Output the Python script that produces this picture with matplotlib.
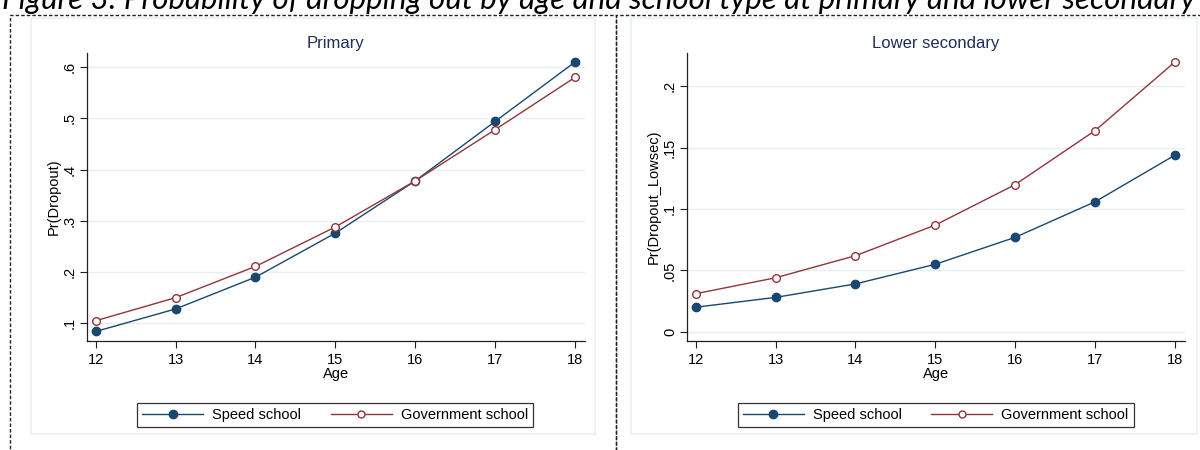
import matplotlib.pyplot as plt
from matplotlib.patches import Rectangle
from matplotlib.lines import Line2D
from matplotlib.ticker import FuncFormatter

plt.rcParams["font.family"] = ["Liberation Sans", "DejaVu Sans"]

ages = [12, 13, 14, 15, 16, 17, 18]

# predicted dropout probabilities, primary
prim_speed = [0.084, 0.128, 0.190, 0.276, 0.378, 0.494, 0.610]
prim_gov = [0.105, 0.150, 0.211, 0.288, 0.378, 0.478, 0.580]

# predicted dropout probabilities, lower secondary
lows_speed = [0.020, 0.028, 0.039, 0.055, 0.077, 0.106, 0.144]
lows_gov = [0.031, 0.044, 0.062, 0.087, 0.120, 0.164, 0.220]

prim_ticks = [0.1, 0.2, 0.3, 0.4, 0.5, 0.6]
lows_ticks = [0, 0.05, 0.1, 0.15, 0.2]

fig_title = ("Figure 3: Probability of dropping out by age and school type "
             "at primary and lower secondary")

NAVY = "#1a476f"
MAROON = "#90353b"
GRID = "#e8eff1"
TITLE_C = "#1f2f55"

W, H = 1200, 450
fig = plt.figure(figsize=(12, 4.5), dpi=100)


def fx(px):
    return px / W


def fy(py):
    return 1 - py / H


def stata_fmt(v, pos):
    if abs(v) < 1e-9:
        return "0"
    s = ("%g" % v)
    return s.replace("0.", ".", 1)


# dashed frames and faint panel boxes
for x0, x1 in [(10, 616), (616, 1222)]:
    fig.add_artist(Rectangle((fx(x0), fy(470)), fx(x1 - x0), (470 - 15) / H,
                             transform=fig.transFigure, fill=False,
                             edgecolor="#222222", lw=1.0, ls=(0, (2.5, 1.5))))
for x0, x1 in [(31, 595), (631, 1197)]:
    fig.add_artist(Rectangle((fx(x0), fy(434)), fx(x1 - x0), (434 - 18) / H,
                             transform=fig.transFigure, fill=False,
                             edgecolor="#edf3f3", lw=1.5))

panels = [
    (86.7, "Primary", "Pr(Dropout)", prim_speed, prim_gov, prim_ticks,
     (0.066, 0.627), 137),
    (686.7, "Lower secondary", "Pr(Dropout_Lowsec)", lows_speed, lows_gov,
     lows_ticks, (-0.0073, 0.227), 737.5),
]

for left, title, ylab, speed, gov, ticks, ylim, leg_x in panels:
    ax = fig.add_axes([fx(left), fy(340.7), fx(498.3), (340.7 - 53.3) / H])
    ax.set_facecolor("white")
    for t in ticks:
        ax.axhline(t, color=GRID, lw=1.0, zorder=0)
    ax.plot(ages, speed, color=NAVY, lw=1.0, marker="o", ms=6,
            mfc=NAVY, mec=NAVY, zorder=3)
    ax.plot(ages, gov, color=MAROON, lw=1.0, marker="o", ms=5.5,
            mfc="white", mec=MAROON, mew=1.0, zorder=3)
    ax.set_xlim(11.887, 18.125)
    ax.set_ylim(*ylim)
    ax.set_xticks(ages)
    ax.set_yticks(ticks)
    ax.yaxis.set_major_formatter(FuncFormatter(stata_fmt))
    for lab in ax.get_yticklabels():
        lab.set_rotation(90)
        lab.set_va("center")
    ax.tick_params(axis="both", labelsize=10.5, length=5, width=0.8,
                   color="#222222", labelcolor="black", direction="out")
    ax.tick_params(axis="y", pad=2)
    ax.spines["top"].set_visible(False)
    ax.spines["right"].set_visible(False)
    for s in ("left", "bottom"):
        ax.spines[s].set_color("#222222")
        ax.spines[s].set_linewidth(0.9)
    ax.set_xlabel("Age", fontsize=10.5, labelpad=0)
    ax.set_ylabel(ylab, fontsize=10.5)
    # y title sits just left of the rotated tick labels
    ax.yaxis.set_label_coords(-0.0516, 0.5)
    ax.set_title(title, fontsize=12, color=TITLE_C, pad=4)

    handles = [
        Line2D([], [], color=NAVY, lw=1.0, marker="o", ms=6, mfc=NAVY, mec=NAVY),
        Line2D([], [], color=MAROON, lw=1.0, marker="o", ms=5, mfc="white",
               mec=MAROON),
    ]
    leg = fig.legend(handles, ["Speed school", "Government school"], ncol=2,
                     loc="lower left",
                     bbox_to_anchor=(fx(leg_x), fy(427), fx(396), 30 / H),
                     mode="expand", fontsize=10.5, frameon=True,
                     fancybox=False, edgecolor="black", handlelength=4.2,
                     handletextpad=0.6, columnspacing=1.5, borderpad=0.35,
                     borderaxespad=0)
    leg.get_frame().set_linewidth(0.9)

fig.text(0.002, fy(9), fig_title, fontsize=22.5, style="italic",
         family=["Lato", "DejaVu Sans"], va="baseline", ha="left")

fig.savefig("out.png", dpi=100)
